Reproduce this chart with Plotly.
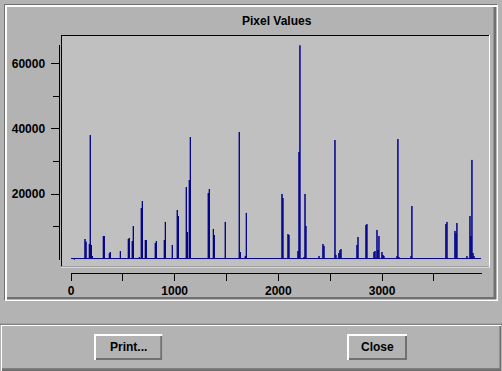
import plotly.graph_objects as go

W, H = 502, 371

# ---- data ----
spike_pos = [135, 145, 177, 186, 196, 206, 312, 321, 370, 379, 476,
             553, 562, 591, 601, 659, 678, 688, 717, 726,
             813, 823, 900, 910, 977, 1025, 1035, 1112, 1122, 1141, 1151,
             1324, 1334, 1373, 1382, 1488, 1623, 1633, 1681, 1691,
             2035, 2044, 2093, 2102, 2189, 2199, 2208, 2247, 2257, 2266,
             2392, 2430, 2440, 2546, 2555, 2584, 2594, 2604, 2758, 2768,
             2845, 2854, 2922, 2932, 2951, 2960, 2970, 2999, 3009, 3018,
             3144, 3153, 3163, 3279, 3288, 3616, 3626, 3703, 3713, 3722,
             3819, 3848, 3857, 3867, 3877, 3887]
spike_val = [6330, 5500, 4800, 38100, 4500, 1100, 7250, 7250, 1950, 2350, 2650,
             6330, 6650, 5700, 10300, 800, 15800, 17950, 6000, 6000,
             5100, 5700, 6000, 11550, 4500, 15200, 13350, 22200, 8450, 24350, 37500,
             20400, 21600, 9400, 7550, 11550, 39050, 2350, 1150, 14300,
             20100, 18870, 7850, 7550, 2650, 32950, 65535, 800, 20100, 10300,
             1100, 4800, 4200, 36600, 1450, 2050, 2950, 3250, 4500, 6950,
             10600, 10900, 2350, 2650, 9100, 2950, 7250, 2350, 1450, 1100,
             1100, 36900, 800, 1100, 16400, 10900, 11550, 8800, 8150, 11200,
             1100, 13350, 7250, 30500, 2050, 1100]
baseline = 350
dip_pos, dip_val = 32, 0
x_start, x_end = 0, 3955

x_ticks = [0, 500, 1000, 1500, 2000, 2500, 3000, 3500]
x_labels = ["0", "", "1000", "", "2000", "", "3000", ""]
y_ticks = [20000, 40000, 60000]
y_labels = ["20000", "40000", "60000"]
y_minor = [10000, 30000, 50000]

title = "Pixel Values"
btn_print = "Print..."
btn_close = "Close"

# ---- build line path from data ----
xs, ys = [x_start], [baseline]
xs += [dip_pos, dip_pos, dip_pos]
ys += [baseline, dip_val, baseline]
for p, v in zip(spike_pos, spike_val):
    xs += [p, p, p]
    ys += [baseline, v, baseline]
xs.append(x_end)
ys.append(baseline)

def px(x):
    return x / W

def py(y):
    return 1 - y / H

BG = "#b3b3b3"
DARK = "#707070"
WHITE = "#ffffff"
PLOTBG = "#c0c0c0"

shapes = []

def rect(x0, y0, x1, y1, color):
    shapes.append(dict(type="rect", xref="paper", yref="paper",
                       x0=px(x0), x1=px(x1), y0=py(y1), y1=py(y0),
                       fillcolor=color, line=dict(width=0), layer="below"))

# top etched frame
rect(4, 4, 497, 300, DARK)
rect(5, 5, 498, 301, WHITE)
rect(7, 7, 496.5, 299.5, DARK)
rect(7, 7, 493.5, 297, BG)
# plot box (sunken)
rect(61, 35, 490, 267.5, WHITE)
rect(61, 35, 489, 266.5, "#000000")
rect(62, 36, 489, 266.5, PLOTBG)
# bottom separator and raised button panel
rect(0, 323.7, 502, 324.7, DARK)
rect(1, 325, 501, 371, WHITE)
rect(2, 326, 501, 371, DARK)
rect(2, 326, 499.5, 368.3, BG)
# buttons
for (bx0, bx1) in [(94, 162.3), (347, 407)]:
    rect(bx0, 334, bx1, 360, WHITE)
    rect(bx0 + 2, 336, bx1, 360, DARK)
    rect(bx0 + 2, 336, bx1 - 2, 358, BG)

FONT = dict(family="Liberation Sans", size=12, color="black", weight=700)

fig = go.Figure()
fig.add_trace(go.Scatter(x=xs, y=ys, mode="lines",
                         line=dict(color="#00008b", width=1),
                         hoverinfo="skip", showlegend=False))

annotations = [
    dict(text=title, x=px(276.5), y=py(20.5), xref="paper", yref="paper",
         showarrow=False, font=FONT, xanchor="center", yanchor="middle"),
    dict(text=btn_print, x=px(128.5), y=py(347), xref="paper", yref="paper",
         showarrow=False, font=FONT, xanchor="center", yanchor="middle"),
    dict(text=btn_close, x=px(377), y=py(347), xref="paper", yref="paper",
         showarrow=False, font=FONT, xanchor="center", yanchor="middle"),
]

fig.update_layout(
    width=W, height=H, margin=dict(l=0, r=0, t=0, b=0, autoexpand=False),
    paper_bgcolor=BG, plot_bgcolor="rgba(0,0,0,0)",
    shapes=shapes, annotations=annotations,
    xaxis=dict(domain=[px(71), px(481.7)], range=[0, 3961],
               anchor="free", position=py(272.5), automargin=False,
               showline=True, linecolor="black", linewidth=1,
               showgrid=False, zeroline=False,
               ticks="outside", ticklen=7, tickcolor="black", tickwidth=1,
               tickmode="array", tickvals=x_ticks, ticktext=x_labels,
               tickfont=FONT, fixedrange=True),
    yaxis=dict(domain=[py(259.7), py(44.5)], range=[0, 65800],
               anchor="free", position=px(58.5), automargin=False,
               showline=True, linecolor="black", linewidth=1,
               showgrid=False, zeroline=False,
               ticks="outside", ticklen=8, tickcolor="black", tickwidth=1,
               ticklabelstandoff=3,
               tickmode="array", tickvals=y_ticks, ticktext=y_labels,
               minor=dict(tickmode="array", tickvals=y_minor, ticks="outside",
                          ticklen=6, tickcolor="black", tickwidth=1, showgrid=False),
               tickfont=FONT, fixedrange=True),
)

fig.write_html("out.html", config={"displayModeBar": False})
